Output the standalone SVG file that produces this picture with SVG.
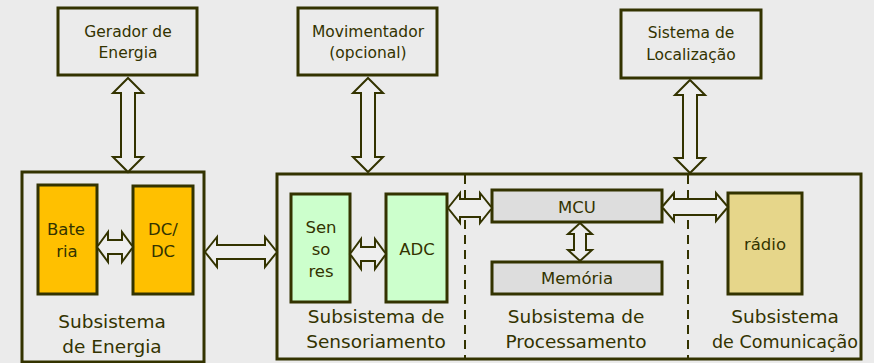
<svg xmlns="http://www.w3.org/2000/svg" width="874" height="363" viewBox="0 0 874 363">
<style>
.box{fill:none;stroke:#333300;stroke-width:3}
.wbox{fill:#ebebeb;stroke:#333300;stroke-width:3}
.orange{fill:#ffc000;stroke:#333300;stroke-width:3}
.green{fill:#ccffcc;stroke:#333300;stroke-width:3}
.gray{fill:#dddddd;stroke:#333300;stroke-width:3}
.radio{fill:#e6d68a;stroke:#333300;stroke-width:3}
.arr{fill:#eeeeee;stroke:#333300;stroke-width:2;stroke-linejoin:miter}
.dash{fill:none;stroke:#333300;stroke-width:2;stroke-dasharray:9,6}
text{font-family:"DejaVu Sans",sans-serif;fill:#333300;text-anchor:middle}
.t15{font-size:15.5px}
.t16{font-size:16.5px}
.t18{font-size:18.5px}
</style>
<rect x="0" y="0" width="874" height="363" fill="#ebebeb"/>
<g id="gerador">
<rect class="wbox" x="58" y="8" width="139" height="67"/>
<text class="t15" x="128" y="37">Gerador de</text>
<text class="t15" x="128" y="58">Energia</text>
</g>
<g id="movimentador">
<rect class="wbox" x="298" y="8" width="139" height="67"/>
<text class="t15" x="368" y="37">Movimentador</text>
<text class="t15" x="368" y="58">(opcional)</text>
</g>
<g id="localizacao">
<rect class="wbox" x="621" y="10" width="140" height="68"/>
<text class="t15" x="691" y="38">Sistema de</text>
<text class="t15" x="691" y="60">Localização</text>
</g>
<g id="subsistema-energia">
<rect class="box" x="22" y="172" width="182" height="190"/>
<text class="t18" x="112" y="328">Subsistema</text>
<text class="t18" x="112" y="353">de Energia</text>
</g>
<g id="bateria">
<rect class="orange" x="38" y="185" width="59" height="109"/>
<text class="t16" x="66" y="235">Bate</text>
<text class="t16" x="67" y="257">ria</text>
</g>
<g id="dcdc">
<rect class="orange" x="133" y="186" width="60" height="108"/>
<text class="t16" x="163" y="235">DC/</text>
<text class="t16" x="163" y="257">DC</text>
</g>
<g id="subsistema-principal">
<rect class="box" x="277" y="174" width="584" height="185"/>
<line class="dash" x1="465" y1="175" x2="465" y2="358"/>
<line class="dash" x1="688" y1="175" x2="688" y2="358"/>
<text class="t18" x="376" y="323">Subsistema de</text>
<text class="t18" x="376" y="348">Sensoriamento</text>
<text class="t18" x="576" y="323">Subsistema de</text>
<text class="t18" x="576" y="348">Processamento</text>
<text class="t18" x="785" y="323">Subsistema</text>
<text class="t18" x="785" y="348" textLength="146" lengthAdjust="spacingAndGlyphs">de Comunicação</text>
</g>
<g id="sensores">
<rect class="green" x="291" y="194" width="59" height="108"/>
<text class="t16" x="321" y="233">Sen</text>
<text class="t16" x="321" y="255">so</text>
<text class="t16" x="321" y="277">res</text>
</g>
<g id="adc">
<rect class="green" x="386" y="194" width="61" height="108"/>
<text class="t16" x="417" y="255">ADC</text>
</g>
<g id="mcu">
<rect class="gray" x="492" y="190" width="170" height="32"/>
<text class="t16" x="577" y="213">MCU</text>
</g>
<g id="memoria">
<rect class="gray" x="492" y="262" width="170" height="32"/>
<text class="t16" x="577" y="284">Memória</text>
</g>
<g id="radio">
<rect class="radio" x="728" y="193" width="74" height="101"/>
<text class="t16" x="765" y="250">rádio</text>
</g>
<g id="connectors">
<polygon class="arr" points="128,78 143,93 135,93 135,157 143,157 128,172 113,157 121,157 121,93 113,93"/>
<polygon class="arr" points="368,78 383,93 375,93 375,157 383,157 368,172 353,157 361,157 361,93 353,93"/>
<polygon class="arr" points="690,80 705,95 697,95 697,158 705,158 690,173 675,158 683,158 683,95 675,95"/>
<polygon class="arr" points="97,247 108,232 108,240 122,240 122,232 133,247 122,262 122,254 108,254 108,262"/>
<polygon class="arr" points="205,252 217,237 217,245 265,245 265,237 277,252 265,267 265,259 217,259 217,267"/>
<polygon class="arr" points="350,254 361,239 361,247 375,247 375,239 386,254 375,269 375,261 361,261 361,269"/>
<polygon class="arr" points="448,208 460,193 460,199 480,199 480,193 492,208 480,223 480,217 460,217 460,223"/>
<polygon class="arr" points="662,207 674,193 674,199 716,199 716,193 728,207 716,221 716,215 674,215 674,221"/>
<polygon class="arr" points="580,223 592,234 586,234 586,250 592,250 580,261 568,250 574,250 574,234 568,234"/>
</g>
</svg>
